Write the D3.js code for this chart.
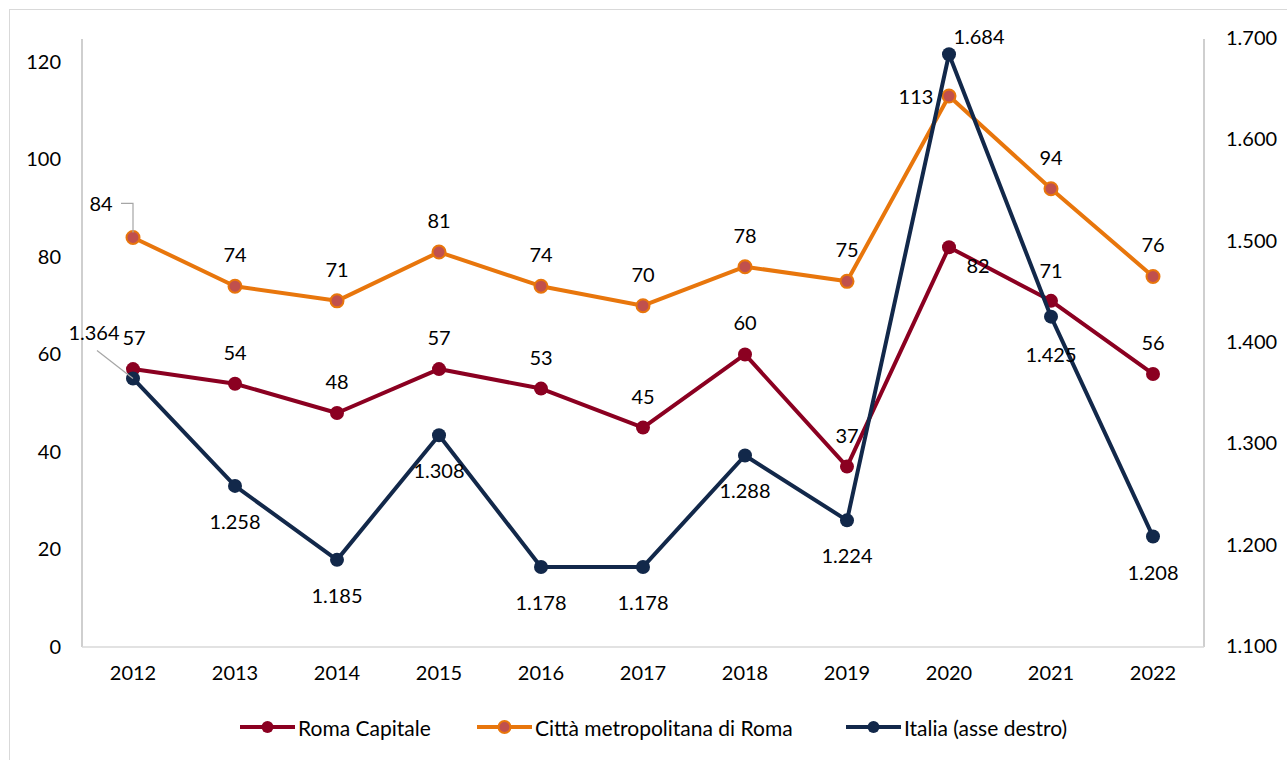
<!DOCTYPE html>
<html lang="it">
<head>
<meta charset="utf-8">
<title>Roma Capitale, Città metropolitana, Italia</title>
<script src="https://d3js.org/d3.v7.min.js"></script>
<style>
  body { margin: 0; background: #fff; }
  text { font-family: Lato, "Noto Sans", sans-serif; fill: #000; }
  .tick text { font-size: 20px; }
  .lbl { font-size: 20px; }
  .leg { font-size: 21px; }
</style>
</head>
<body>
<div id="vis"></div>
<script>
const width = 1287, height = 760;

// data
const years = ["2012","2013","2014","2015","2016","2017","2018","2019","2020","2021","2022"];
const romaCapitale = [57, 54, 48, 57, 53, 45, 60, 37, 82, 71, 56];
const cittaMetro   = [84, 74, 71, 81, 74, 70, 78, 75, 113, 94, 76];
const italia       = [1.364, 1.258, 1.185, 1.308, 1.178, 1.178, 1.288, 1.224, 1.684, 1.425, 1.208];
const leftTicks  = [0, 20, 40, 60, 80, 100, 120];
const rightTicks = [1.1, 1.2, 1.3, 1.4, 1.5, 1.6, 1.7];
const seriesNames = ["Roma Capitale", "Città metropolitana di Roma", "Italia (asse destro)"];

const plot = {left: 82, right: 1204, top: 39, bottom: 647};

const x = d3.scaleBand().domain(years).range([plot.left, plot.right]);
const yL = d3.scaleLinear().domain([0, 124.7]).range([plot.bottom, plot.top]);
const yR = d3.scaleLinear().domain([1.1, 1.7]).range([plot.bottom - 1, plot.top - 1]);
const cx = d => x(d) + x.bandwidth() / 2;

const svg = d3.select("#vis").append("svg")
  .attr("width", width).attr("height", height);

// outer frame
svg.append("rect")
  .attr("x", 9.5).attr("y", 9.5)
  .attr("width", width + 10).attr("height", height + 10)
  .attr("fill", "none").attr("stroke", "#d9d9d9");

// axes
const leftAxis = d3.axisLeft(yL).tickValues(leftTicks).tickSize(0).tickPadding(21);
const gL = svg.append("g").attr("transform", `translate(${plot.left},0)`).call(leftAxis);
gL.select(".domain").attr("stroke", "#bfbfbf").attr("stroke-width", 1.5)
  .attr("d", `M0,${plot.top}V${plot.bottom}`);

const rightAxis = d3.axisRight(yR).tickValues(rightTicks).tickSize(0).tickPadding(22)
  .tickFormat(d => d.toFixed(3));
const gR = svg.append("g").attr("transform", `translate(${plot.right},0)`).call(rightAxis);
gR.select(".domain").attr("stroke", "#bfbfbf").attr("stroke-width", 1.5)
  .attr("d", `M0,${plot.top}V${plot.bottom}`);

const bottomAxis = d3.axisBottom(x).tickSize(0).tickPadding(19);
const gB = svg.append("g").attr("transform", `translate(0,${plot.bottom})`).call(bottomAxis);
gB.select(".domain").attr("stroke", "#d9d9d9").attr("stroke-width", 1.5)
  .attr("d", `M${plot.left},0H${plot.right}`);

svg.selectAll(".tick text").attr("fill", "#000");

// series
const series = [
  {name: seriesNames[0], vals: romaCapitale, y: yL, color: "#8b0021", fill: "#8b0021", fmt: d => d},
  {name: seriesNames[1], vals: cittaMetro, y: yL, color: "#e8760c", fill: "#c0504d", fmt: d => d},
  {name: seriesNames[2], vals: italia, y: yR, color: "#12284a", fill: "#12284a", fmt: d => d.toFixed(3)}
];

// label offsets (dx, dy from point), default above / below
const labelOffsets = [
  {def: [0, -32], special: {"2012": [1, -32], "2020": [29, 18], "2021": [0, -31]}},
  {def: [0, -32], special: {"2012": [-32, -34], "2020": [-33, 0]}},
  {def: [0, 35], special: {"2012": [-39, -46], "2020": [30, -18], "2021": [0, 37]}}
];

// draw order: orange, red, navy
[1, 0, 2].forEach(i => {
  const s = series[i];
  const line = d3.line().x((d, j) => cx(years[j])).y(d => s.y(d));
  svg.append("path").datum(s.vals)
    .attr("d", line).attr("fill", "none")
    .attr("stroke", s.color).attr("stroke-width", 4).attr("stroke-linejoin", "round");
  svg.selectAll(null).data(s.vals).enter().append("circle")
    .attr("cx", (d, j) => cx(years[j])).attr("cy", d => s.y(d))
    .attr("r", i === 1 ? 6.5 : 7)
    .attr("fill", s.fill).attr("stroke", s.color).attr("stroke-width", i === 1 ? 2 : 0);
});

// leader lines for 2012
const x12 = cx("2012");
svg.append("path")
  .attr("d", `M${x12 - 12},${yL(cittaMetro[0]) - 34}H${x12}V${yL(cittaMetro[0]) - 5}`)
  .attr("fill", "none").attr("stroke", "#a6a6a6").attr("stroke-width", 1.2);
svg.append("path")
  .attr("d", `M${x12 - 36},${yR(italia[0]) - 28}L${x12},${yR(italia[0])}`)
  .attr("fill", "none").attr("stroke", "#a6a6a6").attr("stroke-width", 1.2);

// data labels
series.forEach((s, i) => {
  svg.selectAll(null).data(s.vals).enter().append("text")
    .attr("class", "lbl")
    .attr("text-anchor", "middle")
    .attr("dominant-baseline", "central")
    .attr("x", (d, j) => cx(years[j]) + (labelOffsets[i].special[years[j]] || labelOffsets[i].def)[0])
    .attr("y", (d, j) => s.y(d) + (labelOffsets[i].special[years[j]] || labelOffsets[i].def)[1])
    .text(s.fmt);
});

// legend
const legX = [240, 477, 846];
const legY = 727;
series.forEach((s, i) => {
  const g = svg.append("g").attr("transform", `translate(${legX[i]},${legY})`);
  g.append("line").attr("x1", 0).attr("x2", 55).attr("y1", 0).attr("y2", 0)
    .attr("stroke", s.color).attr("stroke-width", 4);
  g.append("circle").attr("cx", 27.5).attr("cy", 0).attr("r", 6)
    .attr("fill", s.fill).attr("stroke", s.color).attr("stroke-width", i === 1 ? 2 : 0);
  g.append("text").attr("class", "leg").attr("x", 58).attr("y", 0)
    .attr("dominant-baseline", "central").text(s.name);
});
</script>
</body>
</html>
